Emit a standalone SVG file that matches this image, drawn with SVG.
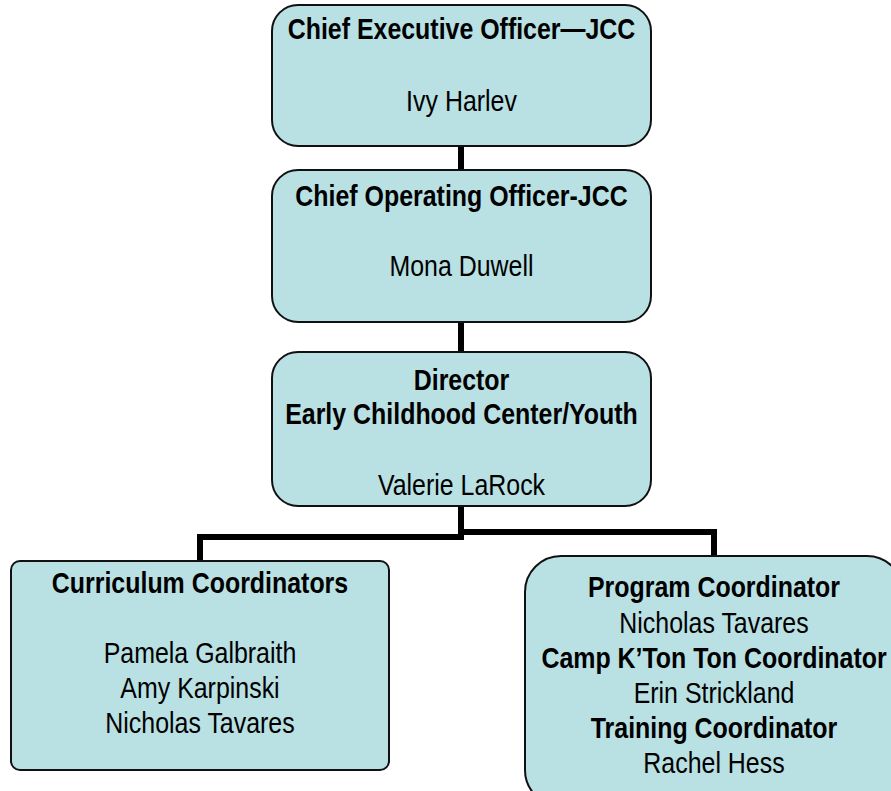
<svg xmlns="http://www.w3.org/2000/svg" width="891" height="791" viewBox="0 0 891 791">
  <style>
    .box { fill: #b9e0e3; stroke: #111; stroke-width: 2; }
    .link { fill: none; stroke: #000; stroke-width: 6; stroke-linejoin: miter; }
    text { font-family: "Liberation Sans", Arial, sans-serif; font-size: 29px; fill: #000; text-anchor: middle; }
    .b { font-weight: bold; }
  </style>
  <rect width="891" height="791" fill="#fff"/>

  <!-- connectors -->
  <g id="connectors">
    <line class="link" x1="461" y1="146" x2="461" y2="170"/>
    <line class="link" x1="461" y1="322" x2="461" y2="352"/>
    <line class="link" x1="461" y1="506" x2="461" y2="540"/>
    <polyline class="link" points="461,537 200,537 200,561"/>
    <polyline class="link" points="461,532 714,532 714,556"/>
  </g>

  <g id="ceo">
    <rect class="box" x="272" y="5" width="379" height="141" rx="26"/>
    <text class="b" transform="translate(461.5 39) scale(0.86 1)">Chief Executive Officer—JCC</text>
    <text transform="translate(461.5 111) scale(0.86 1)">Ivy Harlev</text>
  </g>

  <g id="coo">
    <rect class="box" x="272" y="170" width="379" height="152" rx="26"/>
    <text class="b" transform="translate(461.5 206) scale(0.86 1)">Chief Operating Officer-JCC</text>
    <text transform="translate(461.5 276) scale(0.86 1)">Mona Duwell</text>
  </g>

  <g id="director">
    <rect class="box" x="272" y="352" width="379" height="154" rx="26"/>
    <text class="b" transform="translate(461.5 390) scale(0.86 1)">Director</text>
    <text class="b" transform="translate(461.5 424) scale(0.86 1)">Early Childhood Center/Youth</text>
    <text transform="translate(461.5 495) scale(0.86 1)">Valerie LaRock</text>
  </g>

  <g id="curriculum">
    <rect class="box" x="11" y="561" width="378" height="209" rx="9"/>
    <text class="b" transform="translate(200 593) scale(0.86 1)">Curriculum Coordinators</text>
    <text transform="translate(200 663) scale(0.86 1)">Pamela Galbraith</text>
    <text transform="translate(200 698) scale(0.86 1)">Amy Karpinski</text>
    <text transform="translate(200 733) scale(0.86 1)">Nicholas Tavares</text>
  </g>

  <g id="program">
    <rect class="box" x="525" y="556" width="378" height="250" rx="36"/>
    <text class="b" transform="translate(714 597) scale(0.86 1)">Program Coordinator</text>
    <text transform="translate(714 633) scale(0.86 1)">Nicholas Tavares</text>
    <text class="b" transform="translate(714 668) scale(0.86 1)">Camp K’Ton Ton Coordinator</text>
    <text transform="translate(714 703) scale(0.86 1)">Erin Strickland</text>
    <text class="b" transform="translate(714 738) scale(0.86 1)">Training Coordinator</text>
    <text transform="translate(714 773) scale(0.86 1)">Rachel Hess</text>
  </g>
</svg>
